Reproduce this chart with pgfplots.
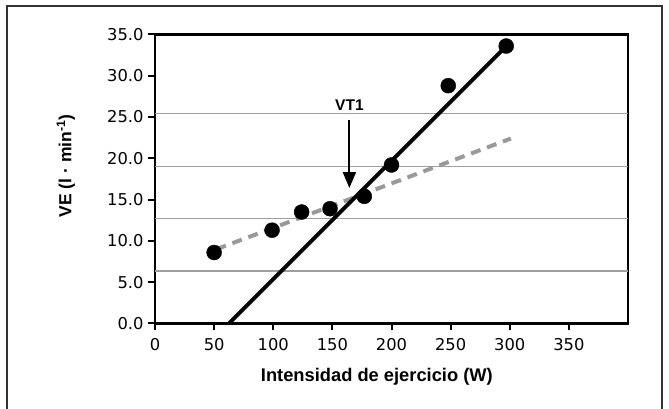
\documentclass[border=0pt]{standalone}
\usepackage{fontspec}
\setmainfont{Liberation Sans}
\newfontfamily\tickfont{DejaVu Sans}
\usepackage{pgfplots}
\pgfplotsset{compat=1.18}
\usetikzlibrary{arrows.meta}
\begin{document}
\begin{tikzpicture}[x=1pt,y=1pt]
\path[use as bounding box] (0,0) rectangle (669,409);
\draw[line width=2pt, color=black!80] (7,-5) -- (7,403) -- (662,403) -- (662,-5);
\begin{axis}[
  at={(155pt,85.5pt)}, anchor=south west,
  scale only axis, width=473pt, height=289pt,
  xmin=0, xmax=400, ymin=0, ymax=35,
  xtick={0,50,100,150,200,250,300,350},
  xticklabels={0,50,100,150,200,250,300,350},
  ytick={0,5,10,15,20,25,30,35},
  yticklabels={0.0,5.0,10.0,15.0,20.0,25.0,30.0,35.0},
  xtick pos=lower, ytick pos=left,
  tick align=outside,
  major tick length=7pt,
  tick style={black, line width=2pt},
  axis line style={black, line width=2.2pt},
  ticklabel style={font=\tickfont\fontsize{16.3}{16.3}\selectfont, text=black},
  xticklabel style={yshift=-4pt},
  yticklabel style={xshift=-1pt},
  extra y ticks={6.35,12.7,19.05,25.4},
  extra y tick labels={},
  extra y tick style={grid=major, major grid style={color=black!38, line width=1.3pt}, major tick length=0pt},
  xlabel={Intensidad de ejercicio (W)},
  ylabel={VE (l · min\textsuperscript{-1})},
  xlabel style={at={(rel axis cs:0.469,-0.2014)}, anchor=base, font=\bfseries\fontsize{18.3}{18.3}\selectfont},
  ylabel style={at={(rel axis cs:-0.177,0.545)}, anchor=base, font=\bfseries\fontsize{17.5}{17.5}\selectfont},
  clip=false,
]
\addplot[color=black!40, line width=4pt, dash pattern=on 10pt off 7pt] coordinates {(52,9.0) (301,22.4)};
\addplot[black, line width=4pt] coordinates {(62.5,0) (295,33.3)};
\addplot[only marks, mark=*, mark size=7.5pt, black] coordinates {
(50,8.6) (99,11.3) (124,13.5) (148,13.9) (177,15.4) (200,19.2) (248,28.8) (297,33.6)};
\draw[-{Triangle[length=16pt,width=13pt]}, line width=2pt] (axis cs:164.4,24.7) -- (axis cs:164.4,16.4);
\node[font=\bfseries\fontsize{15.5}{15.5}\selectfont, anchor=base] at (axis cs:164.4,25.85) {VT1};
\end{axis}
\end{tikzpicture}
\end{document}
